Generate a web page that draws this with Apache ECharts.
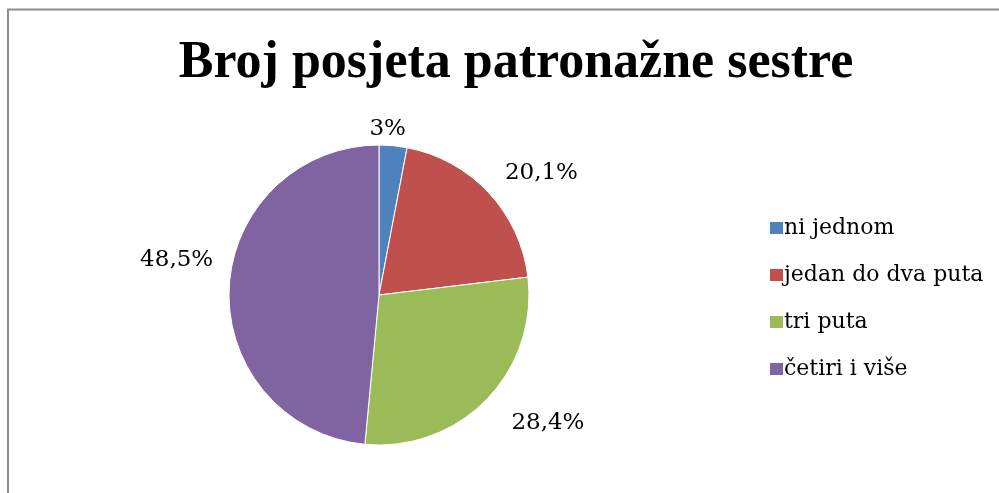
<!DOCTYPE html>
<html>
<head>
<meta charset="utf-8">
<script src="https://cdn.jsdelivr.net/npm/echarts@6/dist/echarts.min.js"></script>
<style>
  html, body { margin: 0; padding: 0; background: #fff; }
  #chart { width: 999px; height: 493px; }
</style>
</head>
<body>
<div id="chart"></div>
<script>
// 数据
const categories = ['ni jednom', 'jedan do dva puta', 'tri puta', 'četiri i više']
const values = [3, 20.1, 28.4, 48.5]
const labelTexts = ['3%', '20,1%', '28,4%', '48,5%']
const colors = ['#4F81BD', '#C0504D', '#9BBB59', '#8064A2']

// 标签微调 (模仿 Excel 的 "最佳匹配" 位置)
const labelShift = [
  { dx: -30, dy: -3 },
  { dx: 1, dy: -10 },
  { dx: 10, dy: 14 },
  { dx: 3, dy: -27 }
]

const chart = echarts.init(document.getElementById('chart'))

const option = {
  animation: false,
  color: colors,
  title: {
    text: 'Broj posjeta patronažne sestre',
    left: 511,
    top: 33,
    textAlign: 'center',
    textStyle: {
      fontFamily: '"Liberation Serif", serif',
      fontWeight: 'bold',
      fontSize: 52,
      color: '#000'
    }
  },
  legend: {
    orient: 'vertical',
    left: 763,
    top: 212,
    itemWidth: 15,
    itemHeight: 14,
    itemGap: 25,
    icon: 'rect',
    data: categories,
    textStyle: {
      fontFamily: '"DejaVu Serif", serif',
      fontSize: 22,
      color: '#000',
      padding: [0, 0, 0, -5]
    }
  },
  graphic: [{
    type: 'rect',
    shape: { x: 8, y: 9.5, width: 1100, height: 600 },
    style: { fill: 'none', stroke: '#8c8c8c', lineWidth: 2 },
    silent: true
  }],
  series: [{
    type: 'pie',
    center: [379, 295],
    radius: 150,
    startAngle: 90,
    clockwise: true,
    itemStyle: { borderColor: '#fff', borderWidth: 1 },
    label: {
      show: true,
      position: 'outside',
      fontFamily: '"DejaVu Serif", serif',
      fontSize: 23,
      color: '#000',
      formatter: (p) => labelTexts[p.dataIndex]
    },
    labelLine: { show: false, length: 14, length2: 0 },
    labelLayout: (p) => labelShift[p.dataIndex],
    data: categories.map((name, i) => ({ name, value: values[i] }))
  }]
}

chart.setOption(option)
</script>
</body>
</html>
